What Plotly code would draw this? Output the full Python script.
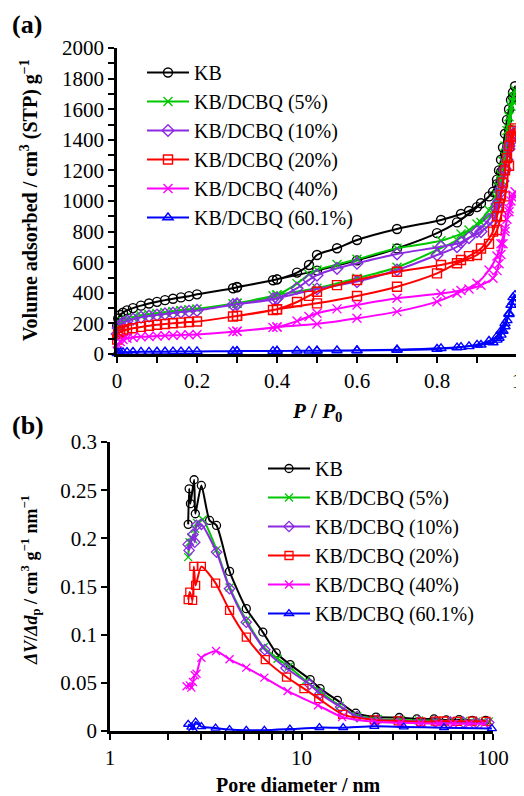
import plotly.graph_objects as go

# ---------------------------------------------------------------------------
# (a) N2 isotherms: adsorption branch up, desorption branch back down
# ---------------------------------------------------------------------------
P_ADS = [0.0005, 0.003, 0.008, 0.015, 0.025, 0.04, 0.06, 0.08, 0.10, 0.12, 0.14, 0.16,
         0.18, 0.20, 0.29, 0.30, 0.39, 0.40, 0.50, 0.60, 0.70, 0.80, 0.85, 0.90, 0.93,
         0.95, 0.96, 0.97, 0.98, 0.99, 0.995]
P_DES = [0.99, 0.985, 0.98, 0.975, 0.97, 0.965, 0.96, 0.955, 0.95, 0.94, 0.91, 0.88,
         0.86, 0.81, 0.70, 0.60, 0.55, 0.50, 0.48, 0.45, 0.40, 0.30]

KB_ADS = [185, 232, 255, 270, 285, 300, 316, 330, 341, 352, 361, 370, 378, 390, 430, 436,
          482, 488, 545, 612, 690, 790, 860, 960, 1030, 1110, 1190, 1310, 1470, 1680, 1750]
KB_DES = [1710, 1660, 1600, 1530, 1440, 1350, 1270, 1200, 1140, 1060, 985, 935, 915, 876,
          817, 745, 691, 647, 582, 532, 488, 438]
Q5_ADS = [140, 180, 200, 213, 225, 238, 250, 258, 265, 272, 278, 284, 289, 294, 328, 332,
          380, 386, 430, 495, 567, 680, 745, 850, 940, 1040, 1140, 1290, 1470, 1650, 1725]
Q5_DES = [1680, 1620, 1550, 1460, 1360, 1260, 1170, 1090, 1020, 930, 860, 810, 785, 740,
          691, 619, 585, 549, 520, 460, 386, 332]
Q10_ADS = [130, 170, 190, 203, 215, 228, 240, 248, 255, 262, 268, 274, 279, 285, 322, 326,
           360, 364, 425, 473, 549, 647, 701, 800, 880, 980, 1080, 1210, 1360, 1430, 1450]
Q10_DES = [1430, 1390, 1340, 1270, 1200, 1130, 1060, 1000, 950, 870, 800, 760, 730, 701,
           654, 593, 560, 515, 485, 430, 364, 326]
Q20_ADS = [95, 128, 142, 152, 160, 168, 177, 185, 191, 196, 201, 205, 209, 212, 245, 249,
           288, 292, 331, 379, 440, 527, 593, 647, 720, 810, 900, 1030, 1230, 1420, 1475]
Q20_DES = [1460, 1420, 1360, 1280, 1200, 1120, 1040, 960, 900, 800, 690, 640, 614, 582,
           538, 484, 450, 407, 380, 340, 292, 249]
Q40_ADS = [20, 62, 82, 95, 103, 108, 112, 115, 118, 120, 122, 124, 126, 128, 145, 148,
           173, 177, 196, 233, 277, 342, 397, 462, 549, 640, 720, 820, 930, 1020, 1060]
Q40_DES = [1040, 1000, 950, 880, 800, 720, 650, 590, 545, 495, 450, 425, 415, 395, 364,
           320, 295, 266, 245, 215, 177, 148]
Q60_ADS = [4, 8, 10, 11, 12, 13, 14, 14, 15, 15, 16, 16, 17, 17, 18, 19, 19, 20, 21, 23,
           26, 33, 42, 60, 85, 115, 150, 200, 260, 340, 385]
Q60_DES = [370, 320, 265, 220, 180, 150, 125, 105, 92, 75, 60, 50, 45, 37, 28, 24, 23, 22,
           21, 21, 20, 19]

# ---------------------------------------------------------------------------
# (b) pore size distributions
# ---------------------------------------------------------------------------
KB_D = [2.56, 2.59, 2.63, 2.75, 2.79, 3.0, 3.31, 3.6, 4.21, 5.15, 6.28, 7.38, 8.72, 11.1,
        12.5, 15.4, 19.2, 24.5, 32.4, 40.0, 49.2, 57.0, 66.5, 78.0, 91.6]
KB_DV = [0.2145, 0.2514, 0.236, 0.2608, 0.2255, 0.2549, 0.2186, 0.2134, 0.1657, 0.127,
         0.1027, 0.081, 0.0689, 0.0533, 0.044, 0.0318, 0.0185, 0.0145, 0.014, 0.0125,
         0.0125, 0.0115, 0.0118, 0.011, 0.011]
Q5_D = [2.56, 2.6, 2.66, 2.72, 2.78, 2.85, 3.05, 3.6, 4.21, 5.15, 6.35, 7.5, 8.6, 10.5,
        12.5, 15.8, 19.5, 25, 33, 41, 50, 60, 70, 82, 95]
Q5_DV = [0.1805, 0.196, 0.201, 0.199, 0.21, 0.216, 0.2195, 0.188, 0.149, 0.115, 0.087,
         0.075, 0.067, 0.052, 0.041, 0.026, 0.0155, 0.0125, 0.0115, 0.011, 0.0108, 0.0105,
         0.0103, 0.010, 0.0098]
Q10_D = [2.56, 2.59, 2.71, 2.77, 2.83, 3.0, 3.6, 4.21, 5.15, 6.43, 8.3, 11.0, 12.5, 16.0,
         19.5, 25, 33, 41, 50, 60, 70, 82, 95]
Q10_DV = [0.1937, 0.1875, 0.204, 0.196, 0.2134, 0.2145, 0.1857, 0.1477, 0.113, 0.0844,
          0.0654, 0.0484, 0.0388, 0.0249, 0.015, 0.0115, 0.0105, 0.0098, 0.0095, 0.0092,
          0.009, 0.0088, 0.0087]
Q20_D = [2.56, 2.61, 2.7, 2.74, 2.8, 3.0, 3.56, 4.21, 5.15, 6.47, 8.35, 10.3, 12.3, 16.4,
         24, 32, 42, 50, 55.5, 65, 78, 92]
Q20_DV = [0.1363, 0.1442, 0.1356, 0.1708, 0.1511, 0.1708, 0.1535, 0.1252, 0.0975, 0.0741,
          0.056, 0.044, 0.0336, 0.0173, 0.0115, 0.0105, 0.0095, 0.0102, 0.0104, 0.010,
          0.0102, 0.010]
Q40_D = [2.51, 2.61, 2.66, 2.71, 2.77, 2.83, 3.0, 3.58, 4.21, 5.15, 6.4, 8.46, 12.2, 16.3,
         24, 33, 42, 52, 62, 75, 90]
Q40_DV = [0.0464, 0.0474, 0.045, 0.0508, 0.0578, 0.0595, 0.0761, 0.083, 0.0744, 0.0658,
          0.0554, 0.0415, 0.0267, 0.0145, 0.0095, 0.0085, 0.008, 0.0078, 0.0076, 0.0075,
          0.0074]
Q60_D = [2.56, 2.66, 2.71, 2.8, 3.0, 3.56, 4.21, 5.15, 6.4, 8.7, 12.4, 16.5, 24, 34.2,
         55.5, 98.7]
Q60_DV = [0.007, 0.004, 0.0015, 0.0093, 0.0045, 0.003, 0.0015, 0.0008, 0.0008, 0.002,
          0.0035, 0.0035, 0.0049, 0.0042, 0.0035, 0.0025]

NAMES = ["KB", "KB/DCBQ (5%)", "KB/DCBQ (10%)", "KB/DCBQ (20%)", "KB/DCBQ (40%)",
         "KB/DCBQ (60.1%)"]
COLORS = ["#000000", "#00c800", "#8a2be2", "#ff0000", "#ff00ff", "#0000ff"]
SYMBOLS = ["circle-open", "x-thin-open", "diamond-open", "square-open", "x-thin-open",
           "triangle-up-open"]

iso_ads = [KB_ADS, Q5_ADS, Q10_ADS, Q20_ADS, Q40_ADS, Q60_ADS]
iso_des = [KB_DES, Q5_DES, Q10_DES, Q20_DES, Q40_DES, Q60_DES]
psd_d = [KB_D, Q5_D, Q10_D, Q20_D, Q40_D, Q60_D]
psd_v = [KB_DV, Q5_DV, Q10_DV, Q20_DV, Q40_DV, Q60_DV]

FONT = "Liberation Serif, Times New Roman, serif"
W, H = 524, 796
OFF = 8  # page body margin: the figure starts 8 px in from the window corner


def px(x):
    return (x - OFF) / W


def py(y):
    return 1 - (y - OFF) / H


fig = go.Figure()

for i, name in enumerate(NAMES):
    fig.add_trace(go.Scatter(
        x=P_ADS + P_DES, y=iso_ads[i] + iso_des[i],
        mode="lines+markers", name=name, legend="legend", legendgroup="a%d" % i,
        line=dict(color=COLORS[i], width=2, shape="spline", smoothing=0.8),
        marker=dict(symbol=SYMBOLS[i], size=9, color=COLORS[i], line=dict(width=1.4, color=COLORS[i])),
        cliponaxis=False, xaxis="x", yaxis="y"))

for i, name in enumerate(NAMES):
    fig.add_trace(go.Scatter(
        x=psd_d[i], y=psd_v[i],
        mode="lines+markers", name=name, legend="legend2", legendgroup="b%d" % i,
        line=dict(color=COLORS[i], width=2, shape="spline", smoothing=0.6),
        marker=dict(symbol=SYMBOLS[i], size=8, color=COLORS[i], line=dict(width=1.3, color=COLORS[i])),
        cliponaxis=False, xaxis="x2", yaxis="y2"))

axis_common = dict(showline=True, linecolor="black", linewidth=2.5, ticks="outside",
                   ticklen=6, tickwidth=2, tickcolor="black", showgrid=False, zeroline=False,
                   tickfont=dict(family=FONT, size=21, color="black"), automargin=False)

fig.update_layout(
    width=W, height=H, plot_bgcolor="white", paper_bgcolor="white",
    margin=dict(l=0, r=0, t=0, b=0),
    font=dict(family=FONT, size=21, color="black"),
    xaxis=dict(domain=[px(117), px(517)], range=[0, 1], dtick=0.2, anchor="y",
               minor=dict(dtick=0.1, ticks="outside", ticklen=6, tickwidth=2, tickcolor="black"),
               **axis_common),
    yaxis=dict(domain=[py(354), py(48)], range=[0, 2000], dtick=200, anchor="x",
               minor=dict(dtick=100, ticks="outside", ticklen=6, tickwidth=2, tickcolor="black"),
               **axis_common),
    xaxis2=dict(domain=[px(110), px(493)], type="log", range=[0, 2], tickmode="array",
                tickvals=[1, 10, 100], ticktext=["1", "10", "100"], anchor="y2",
                minor=dict(tickmode="array",
                           tickvals=[2, 3, 4, 5, 6, 7, 8, 9, 20, 30, 40, 50, 60, 70, 80, 90],
                           ticks="outside", ticklen=6, tickwidth=2, tickcolor="black"),
                **axis_common),
    yaxis2=dict(domain=[py(731), py(442)], range=[0, 0.3], dtick=0.05, anchor="x2",
                **axis_common),
    legend=dict(x=px(142), y=py(53), xanchor="left", yanchor="top", bgcolor="rgba(0,0,0,0)",
                font=dict(family=FONT, size=20, color="black"), tracegroupgap=0,
                itemwidth=42),
    legend2=dict(x=px(263), y=py(449), xanchor="left", yanchor="top", bgcolor="rgba(0,0,0,0)",
                 font=dict(family=FONT, size=20, color="black"), tracegroupgap=0,
                 itemwidth=42),
    showlegend=True,
)

ann = [
    dict(text="<b>(a)</b>", x=px(10), y=py(25), xanchor="left", font=dict(size=26)),
    dict(text="<b>(b)</b>", x=px(10), y=py(425), xanchor="left", font=dict(size=26)),
    dict(text="<b>Volume adsorbed / cm<sup>3</sup> (STP) g<sup>−1</sup></b>", x=px(30), y=py(200),
         textangle=-90, font=dict(size=20)),
    dict(text="<b><i>P</i> / <i>P</i><sub>0</sub></b>", x=px(317), y=py(412), font=dict(size=21)),
    dict(text="<b><i>ΔV</i>/<i>Δd</i><sub>p</sub> / cm<sup>3</sup> g<sup>−1</sup> nm<sup>−1</sup></b>",
         x=px(30), y=py(580), textangle=-90, font=dict(size=18)),
    dict(text="<b>Pore diameter / nm</b>", x=px(298), y=py(785), font=dict(size=20)),
]
for a in ann:
    a.update(xref="paper", yref="paper", showarrow=False)
    a.setdefault("xanchor", "center")
    a["yanchor"] = "middle"
    a["font"].update(family=FONT, color="black")
fig.update_layout(annotations=ann)

fig.write_html("out.html")
